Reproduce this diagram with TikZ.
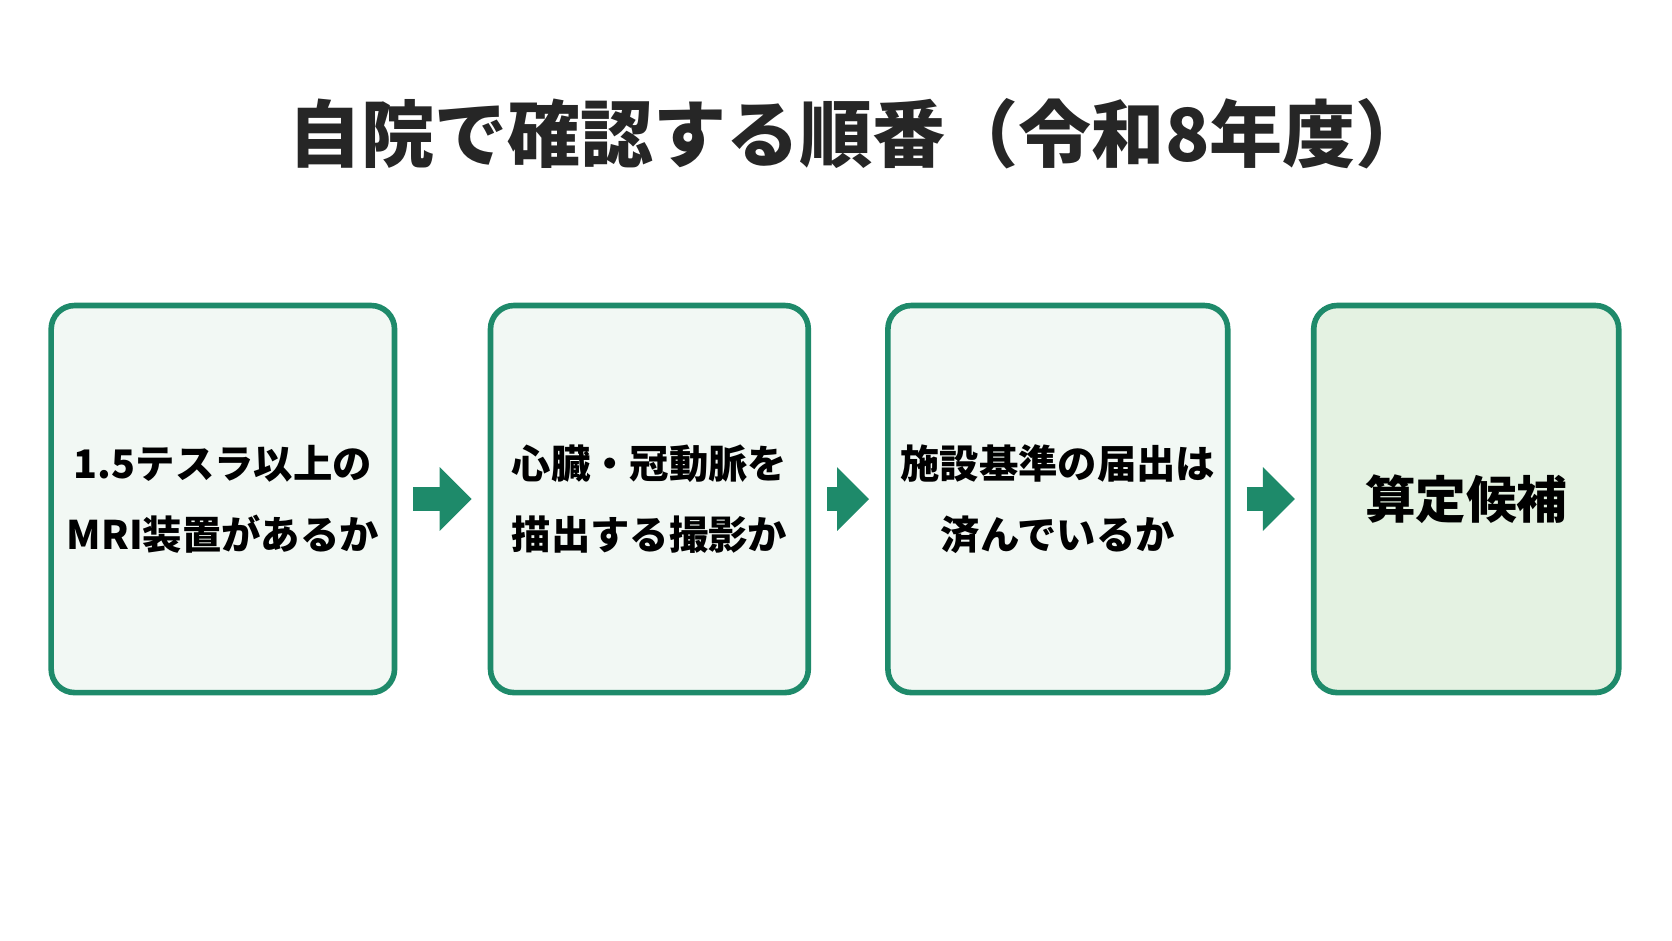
\documentclass[tikz,border=0pt]{standalone}
\usepackage{fontspec}
\setmainfont{Noto Sans CJK JP}
\usetikzlibrary{arrows.meta, positioning}
\definecolor{stepgreen}{HTML}{1E8A6A}
\definecolor{stepfill}{HTML}{F2F8F4}
\definecolor{lastfill}{HTML}{E4F2E2}
\begin{document}
\begin{tikzpicture}[font=\bfseries]
        \tikzset{
        checkbox/.style = {draw=stepgreen, line width=1.5pt, fill=stepfill, rounded corners=0.22cm, minimum height=3.63cm, align=center, font=\bfseries\fontsize{10.5}{19}\selectfont},
        flow/.style     = {draw=stepgreen, line width=0.22cm, -{Triangle[length=0.3cm, width=0.58cm]}, shorten <=0.15cm, shorten >=0.15cm}
        }
        \useasboundingbox (0,0) rectangle (15.68,8.82);

        % Title
        \node[font=\bfseries\fontsize{19.5}{22}\selectfont, text=black!85] (title) at (8.05,7.57) {自院で確認する順番（令和8年度）};

        % Steps
        \node[checkbox, minimum width=3.22cm] (mri) at (2.09,4.14) {1.5テスラ以上の\\MRI装置があるか};
        \node[checkbox, minimum width=2.98cm] (heart) at (6.09,4.14) {心臓・冠動脈を\\描出する撮影か};
        \node[checkbox, minimum width=2.97cm] (notice) at (9.92,4.14) {施設基準の届出は\\済んでいるか};
        \node[checkbox, minimum width=2.86cm, fill=lastfill, font=\bfseries\fontsize{13.5}{16}\selectfont] (result) at (13.75,4.14) {算定候補};

        % Connections
        \draw[flow] (mri.east) -- (heart.west);
        \draw[flow] (heart.east) -- (notice.west);
        \draw[flow] (notice.east) -- (result.west);
    \end{tikzpicture}
\end{document}
